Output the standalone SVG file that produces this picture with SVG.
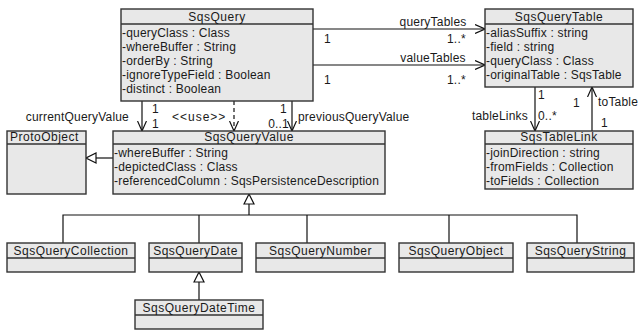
<svg xmlns="http://www.w3.org/2000/svg" width="640" height="331" viewBox="0 0 640 331">
<style>
.box{fill:#e8e8e8;stroke:#333;stroke-width:1.4}
.sep{stroke:#333;stroke-width:1.3}
text{font-family:"Liberation Sans",Arial,sans-serif;font-size:12px;fill:#1a1a1a;letter-spacing:0.2px}
.h{letter-spacing:0.5px}
.c{text-anchor:middle}
.e{text-anchor:end}
.ln{fill:none;stroke:#111;stroke-width:1.2}
.dash{stroke-dasharray:4,3}
</style>
<defs>
<marker id="open" viewBox="0 0 10 10" refX="10" refY="5" markerWidth="10" markerHeight="10" markerUnits="userSpaceOnUse" orient="auto">
<path d="M0,0.5 L10,5 L0,9.5" fill="none" stroke="#111" stroke-width="1.2"/>
</marker>
<marker id="gen" viewBox="0 0 12 12" refX="11" refY="6" markerWidth="12" markerHeight="12" markerUnits="userSpaceOnUse" orient="auto">
<path d="M1,1 L11,6 L1,11 Z" fill="#fff" stroke="#111" stroke-width="1.2"/>
</marker>
</defs>

<g id="connectors">
<line class="ln" x1="313" y1="29" x2="485" y2="29" marker-end="url(#open)"/>
<line class="ln" x1="313" y1="65" x2="485" y2="65" marker-end="url(#open)"/>
<line class="ln" x1="142" y1="101" x2="142" y2="131" marker-end="url(#open)"/>
<line class="ln dash" x1="234" y1="101" x2="234" y2="131" marker-end="url(#open)"/>
<line class="ln" x1="292" y1="101" x2="292" y2="131" marker-end="url(#open)"/>
<line class="ln" x1="535" y1="87" x2="535" y2="131" marker-end="url(#open)"/>
<line class="ln" x1="592" y1="131" x2="592" y2="87" marker-end="url(#open)"/>
<line class="ln" x1="113" y1="158" x2="86" y2="158" marker-end="url(#gen)"/>
<polyline class="ln" points="63,243 63,215 577,215 577,243"/>
<line class="ln" x1="199" y1="215" x2="199" y2="243"/>
<line class="ln" x1="307" y1="215" x2="307" y2="243"/>
<line class="ln" x1="449" y1="215" x2="449" y2="243"/>
<line class="ln" x1="249" y1="215" x2="249" y2="194" marker-end="url(#gen)"/>
<line class="ln" x1="199" y1="300" x2="199" y2="272" marker-end="url(#gen)"/>
<text class="c" x="433" y="26">queryTables</text>
<text x="324" y="43">1</text>
<text x="447" y="43">1..*</text>
<text class="c" x="433" y="62">valueTables</text>
<text x="324" y="84">1</text>
<text x="447" y="84">1..*</text>
<text class="e" x="129" y="121">currentQueryValue</text>
<text x="152" y="113">1</text>
<text x="152" y="128">1</text>
<text x="172" y="121" style="letter-spacing:1px">&lt;&lt;use&gt;&gt;</text>
<text x="280" y="113">1</text>
<text class="e" x="289" y="128">0..1</text>
<text x="298" y="121">previousQueryValue</text>
<text x="538" y="99">1</text>
<text class="e" x="528" y="120">tableLinks</text>
<text x="538" y="120">0..*</text>
<text x="573" y="107">1</text>
<text x="598" y="106">toTable</text>
<text x="601" y="127">1</text>
</g>

<g id="SqsQuery">
<rect class="box" x="121" y="9" width="192" height="92"/>
<line class="sep" x1="121" y1="24" x2="313" y2="24"/>
<text class="c h" x="217" y="21">SqsQuery</text>
<text x="122" y="37">-queryClass : Class</text>
<text x="122" y="51">-whereBuffer : String</text>
<text x="122" y="65">-orderBy : String</text>
<text x="122" y="79">-ignoreTypeField : Boolean</text>
<text x="122" y="93">-distinct : Boolean</text>
</g>

<g id="SqsQueryTable">
<rect class="box" x="485" y="9" width="148" height="78"/>
<line class="sep" x1="485" y1="24" x2="633" y2="24"/>
<text class="c h" x="559" y="21">SqsQueryTable</text>
<text x="486" y="37">-aliasSuffix : string</text>
<text x="486" y="51">-field : string</text>
<text x="486" y="65">-queryClass : Class</text>
<text x="486" y="79">-originalTable : SqsTable</text>
</g>

<g id="ProtoObject">
<rect class="box" x="7" y="131" width="79" height="63"/>
<line class="sep" x1="7" y1="144" x2="86" y2="144"/>
<text class="h" x="10" y="141">ProtoObject</text>
</g>

<g id="SqsQueryValue">
<rect class="box" x="113" y="131" width="272" height="63"/>
<line class="sep" x1="113" y1="144" x2="385" y2="144"/>
<text class="c h" x="249" y="141">SqsQueryValue</text>
<text x="114" y="157">-whereBuffer : String</text>
<text x="114" y="171">-depictedClass : Class</text>
<text x="114" y="185">-referencedColumn : SqsPersistenceDescription</text>
</g>

<g id="SqsTableLink">
<rect class="box" x="485" y="131" width="148" height="58"/>
<line class="sep" x1="485" y1="144" x2="633" y2="144"/>
<text class="c h" x="559" y="141">SqsTableLink</text>
<text x="486" y="157">-joinDirection : string</text>
<text x="486" y="171">-fromFields : Collection</text>
<text x="486" y="185">-toFields : Collection</text>
</g>

<g id="SqsQueryCollection">
<rect class="box" x="7" y="243" width="128" height="29"/>
<line class="sep" x1="7" y1="258" x2="135" y2="258"/>
<text class="c h" x="71" y="255">SqsQueryCollection</text>
</g>

<g id="SqsQueryDate">
<rect class="box" x="149" y="243" width="93" height="29"/>
<line class="sep" x1="149" y1="258" x2="242" y2="258"/>
<text class="c h" x="195.5" y="255">SqsQueryDate</text>
</g>

<g id="SqsQueryNumber">
<rect class="box" x="256" y="243" width="129" height="29"/>
<line class="sep" x1="256" y1="258" x2="385" y2="258"/>
<text class="c h" x="320.5" y="255">SqsQueryNumber</text>
</g>

<g id="SqsQueryObject">
<rect class="box" x="399" y="243" width="114" height="29"/>
<line class="sep" x1="399" y1="258" x2="513" y2="258"/>
<text class="c h" x="456" y="255">SqsQueryObject</text>
</g>

<g id="SqsQueryString">
<rect class="box" x="527" y="243" width="107" height="29"/>
<line class="sep" x1="527" y1="258" x2="634" y2="258"/>
<text class="c h" x="580.5" y="255">SqsQueryString</text>
</g>

<g id="SqsQueryDateTime">
<rect class="box" x="135" y="300" width="128" height="29"/>
<line class="sep" x1="135" y1="315" x2="263" y2="315"/>
<text class="c h" x="199" y="312">SqsQueryDateTime</text>
</g>
</svg>
